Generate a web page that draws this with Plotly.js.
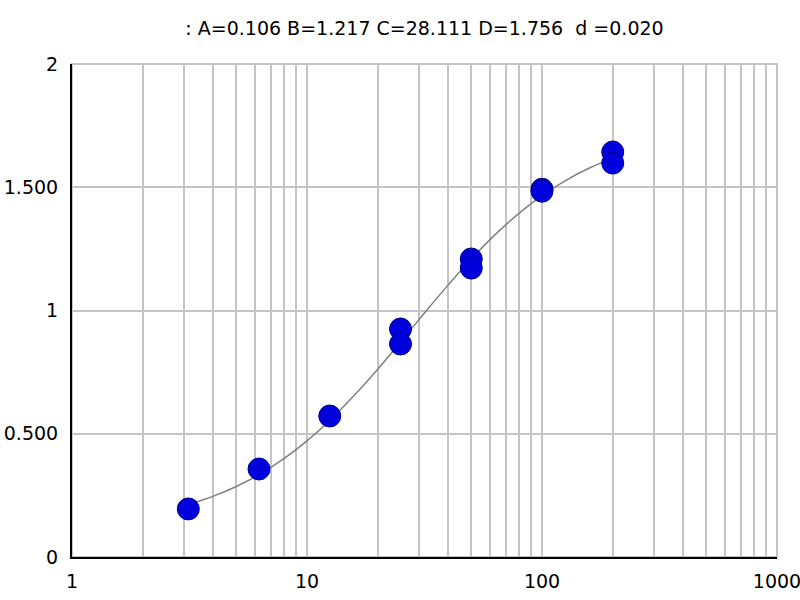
<!DOCTYPE html>
<html>
<head>
<meta charset="utf-8">
<script src="https://cdn.plot.ly/plotly-3.0.1.min.js"></script>
<style>
  html, body { margin: 0; padding: 0; background: #fff; }
  #plotDiv { width: 800px; height: 600px; }
</style>
</head>
<body>
<div id="plotDiv"></div>
<script>
// Standard points (concentration, OD), duplicates per level
const concentrations = [3.125, 6.25, 12.5, 25, 25, 50, 50, 100, 100, 200, 200];
const odValues = [0.195, 0.357, 0.572, 0.925, 0.864, 1.209, 1.172, 1.492, 1.484, 1.643, 1.598];

// Fitted curve
const curveX = [3.125, 4, 5, 6.25, 8, 10, 12.5, 16, 20, 25, 32, 40, 50, 64, 80, 100, 128, 160, 200];
const curveY = [0.213, 0.247, 0.286, 0.334, 0.400, 0.471, 0.554, 0.659, 0.762, 0.872, 0.996, 1.105, 1.209, 1.313, 1.395, 1.466, 1.531, 1.579, 1.617];

const titleText = ": A=0.106 B=1.217 C=28.111 D=1.756 \u00a0d =0.020";

// Axis ticks
const yTickVals = [0, 0.5, 1, 1.5, 2];
const yTickText = ["0", "0.500", "1", "1.500", "2"];

// log grid: every digit of every decade, labels on decades only
let xTickVals = [];
let xTickText = [];
for (let dec = 1; dec <= 100; dec *= 10) {
  for (let k = 1; k <= 9; k++) {
    xTickVals.push(k * dec);
    xTickText.push(k === 1 ? String(dec) : "");
  }
}
xTickVals.push(1000);
xTickText.push("1000");

const fontFamily = "DejaVu Sans, Verdana, sans-serif";
const gridColor = "#c4c4c4";

let traces = [
  {
    x: curveX,
    y: curveY,
    type: "scatter",
    mode: "lines",
    line: { color: "#808080", width: 1.5, shape: "spline" },
    hoverinfo: "skip",
  },
  {
    x: concentrations,
    y: odValues,
    type: "scatter",
    mode: "markers",
    marker: {
      size: 22,
      color: "#0000dc",
      line: { color: "#000090", width: 1 },
    },
  },
];

let layout = {
  width: 800,
  height: 600,
  paper_bgcolor: "#ffffff",
  plot_bgcolor: "#ffffff",
  showlegend: false,
  margin: { l: 72, r: 23, t: 64, b: 43 },
  font: { family: fontFamily, size: 18, color: "#000" },
  title: {
    text: titleText,
    x: 0.5,
    xref: "paper",
    xanchor: "center",
    y: 0.952,
    yref: "container",
    yanchor: "middle",
    font: { family: fontFamily, size: 19, color: "#000" },
  },
  // grey frame on the top and right edges, like the gridlines
  shapes: [
    {
      type: "rect",
      xref: "paper",
      yref: "paper",
      x0: 0,
      x1: 1,
      y0: 0,
      y1: 1,
      line: { color: gridColor, width: 2 },
      layer: "below",
    },
  ],
  xaxis: {
    type: "log",
    range: [0, 3],
    tickmode: "array",
    tickvals: xTickVals,
    ticktext: xTickText,
    ticks: "",
    ticklabelstandoff: 6,
    ticklabeloverflow: "allow",
    showgrid: true,
    gridcolor: gridColor,
    gridwidth: 2,
    zeroline: false,
    showline: true,
    linecolor: "#000",
    linewidth: 2,
    tickfont: { family: fontFamily, size: 19 },
  },
  yaxis: {
    range: [0, 2],
    tickmode: "array",
    tickvals: yTickVals,
    ticktext: yTickText,
    ticks: "",
    ticklabelstandoff: 8,
    ticklabeloverflow: "allow",
    showgrid: true,
    gridcolor: gridColor,
    gridwidth: 2,
    zeroline: false,
    showline: true,
    linecolor: "#000",
    linewidth: 2,
    tickfont: { family: fontFamily, size: 19 },
  },
};

Plotly.newPlot("plotDiv", traces, layout, { displayModeBar: false, staticPlot: true });
</script>
</body>
</html>
